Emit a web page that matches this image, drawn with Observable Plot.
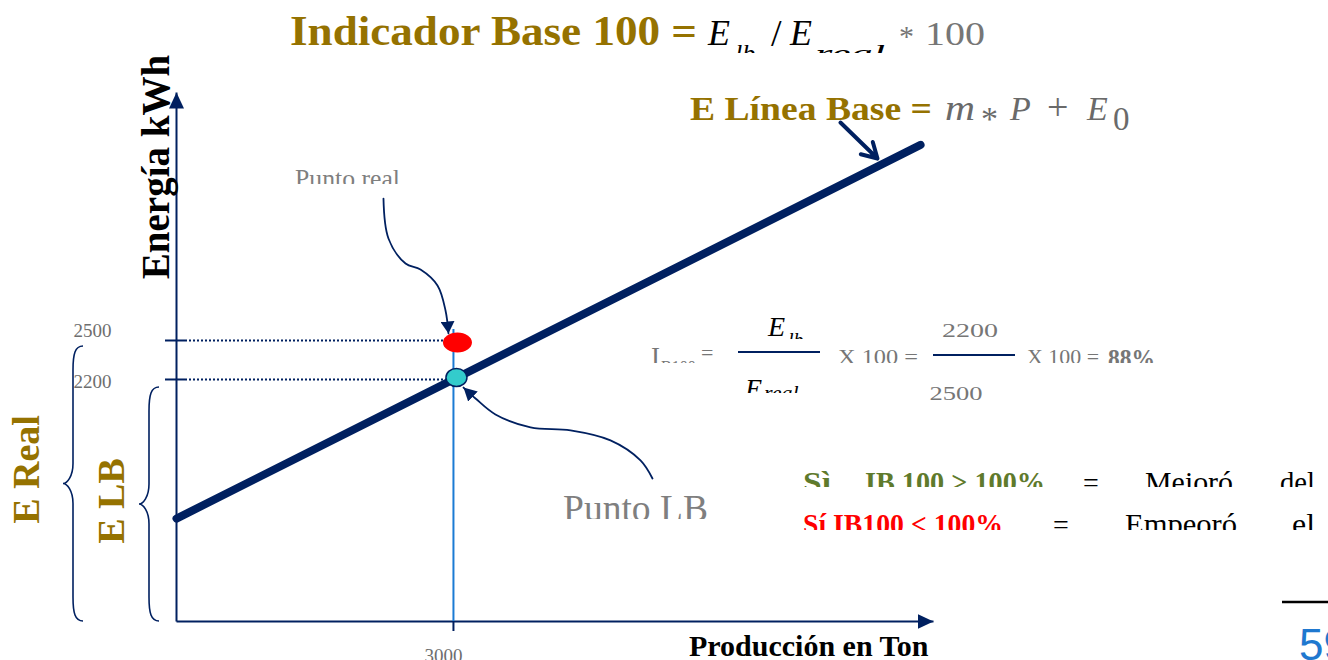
<!DOCTYPE html>
<html>
<head>
<meta charset="utf-8">
<script src="https://cdn.jsdelivr.net/npm/d3@7"></script>
<script src="https://cdn.jsdelivr.net/npm/@observablehq/plot@0.6"></script>
<style>
  html, body { margin: 0; padding: 0; background: #ffffff; overflow: hidden; }
  #chart svg { display: block; }
</style>
</head>
<body>
<div id="chart"></div>
<script>
// ---------------- data ----------------
const productionTicks = [3000];            // x tick (Ton)
const energyTicks = [2500, 2200];          // y ticks (kWh)
const baselineProduction = [0, 8060];      // línea base endpoints (Ton)
const baselineEnergy = [1130, 4005];       // línea base endpoints (kWh)
const pointProduction = [3000];
const pointLB = [2200];                    // Punto LB
const pointReal = [2500];                  // Punto real
const xDomain = [0, 8200];
const yDomain = [338, 4408];
// annotation arrows (data units)
const realArrowX = [2242, 2296, 2481, 2643, 2827, 2914, 2946];
const realArrowY = [3592, 3285, 3092, 3046, 2923, 2731, 2554];
const lbArrowX = [5156, 5026, 4701, 4268, 3835, 3455, 3239, 3109];
const lbArrowY = [1438, 1577, 1731, 1808, 1831, 1931, 2054, 2138];
const eqArrowX = [7192, 7593];
const eqArrowY = [4177, 3900];
// texts
const yAxisLabel = "Energía kWh";
const xAxisLabel = "Producción en Ton";
const braceLabels = ["E Real", "E LB"];
const titleText = "Indicador Base 100 =";
const baseEqText = "E Línea Base =";
const pointLabels = ["Punto real", "Punto LB"];
const legendRows = [
  ["Sì", "IB 100 > 100%", "=", "Mejoró", "del"],
  ["Sí IB100 < 100%", "=", "Empeoró", "el"]
];
const pageNumber = "59";

// ---------------- styles ----------------
const navy = "#002060";
const gold = "#957200";
const gray = "#767676";
const olive = "#5f7a2c";

const triHead = (len, half) => (color) => {
  const m = d3.create("svg:marker")
    .attr("viewBox", `${-len} ${-half} ${len} ${2 * half}`)
    .attr("markerUnits", "userSpaceOnUse")
    .attr("markerWidth", len).attr("markerHeight", 2 * half)
    .attr("refX", 0).attr("refY", 0)
    .attr("orient", "auto")
    .attr("fill", color).attr("stroke", "none");
  m.append("path").attr("d", `M${-len},${-half}L0,0L${-len},${half}Z`);
  return m.node();
};

function ellipse(rx, ry) {
  const k = 0.5523;
  return {
    draw(c) {
      c.moveTo(rx, 0);
      c.bezierCurveTo(rx, ry * k, rx * k, ry, 0, ry);
      c.bezierCurveTo(-rx * k, ry, -rx, ry * k, -rx, 0);
      c.bezierCurveTo(-rx, -ry * k, -rx * k, -ry, 0, -ry);
      c.bezierCurveTo(rx * k, -ry, rx, -ry * k, rx, 0);
      c.closePath();
    }
  };
}

// custom layer: braces + formula texts
function annotations(index, scales, values, dims) {
  const g = d3.create("svg:g")
    .attr("font-family", "'Liberation Serif', serif")
    .attr("text-anchor", "start");
  const defs = g.append("defs");
  let cid = 0;
  const clip = (x, y, w, h) => {
    const id = "annclip" + (cid++);
    defs.append("clipPath").attr("id", id).append("rect")
      .attr("x", x).attr("y", y).attr("width", w).attr("height", h);
    return g.append("g").attr("clip-path", `url(#${id})`);
  };
  const t = (p, s, x, y, o = {}) => {
    const e = p.append("text").attr("x", x).attr("y", y).text(s)
      .attr("font-size", o.fs || 20).attr("fill", o.fill || "#000")
      .attr("text-anchor", o.anchor || "start");
    if (o.bold) e.attr("font-weight", "bold");
    if (o.italic) e.attr("font-style", "italic");
    if (o.len) e.attr("textLength", o.len).attr("lengthAdjust", "spacingAndGlyphs");
    if (o.family) e.attr("font-family", o.family);
    return e;
  };

  // braces
  const left = dims.marginLeft;
  const yBot = scales.y(yDomain[0]);
  const brace = (yTop, xEnd, xSpine, xTip) => {
    const yMid = (yTop + yBot) / 2;
    const d = `M${xEnd},${yTop} C${xSpine + 2},${yTop} ${xSpine},${yTop + 8} ${xSpine},${yTop + 24}` +
      ` L${xSpine},${yMid - 20} C${xSpine},${yMid - 7} ${xTip + 4},${yMid} ${xTip},${yMid}` +
      ` C${xTip + 4},${yMid} ${xSpine},${yMid + 7} ${xSpine},${yMid + 20}` +
      ` L${xSpine},${yBot - 24} C${xSpine},${yBot - 8} ${xSpine + 2},${yBot} ${xEnd},${yBot}`;
    g.append("path").attr("d", d).attr("fill", "none").attr("stroke", navy).attr("stroke-width", 1.6);
  };
  brace(scales.y(pointReal[0]) + 6, left - 93, left - 103, left - 113);
  brace(scales.y(pointLB[0]) + 8, left - 17, left - 27, left - 37);

  // title
  const ti = clip(0, 0, 1328, 53);
  t(ti, titleText, 290, 45, {fs: 42, bold: true, fill: gold, len: 407});
  t(ti, "E", 708, 45, {fs: 36, italic: true});
  t(ti, "lb", 735, 62, {fs: 26, italic: true});
  t(ti, "/", 771, 46, {fs: 38});
  t(ti, "E", 790, 45, {fs: 36, italic: true});
  t(ti, "real", 815, 62, {fs: 26, italic: true, len: 70});
  t(ti, "*", 899, 46, {fs: 30, fill: gray});
  t(ti, "100", 925, 45, {fs: 34, fill: gray, len: 60});

  // E Línea Base equation
  const mg = "#6a6a6a";
  t(g, baseEqText, 690, 120, {fs: 34, bold: true, fill: gold, len: 242});
  t(g, "m", 945, 120, {fs: 36, italic: true, fill: mg, len: 30});
  t(g, "*", 981, 130, {fs: 34, fill: mg});
  t(g, "P", 1010, 120, {fs: 34, italic: true, fill: mg});
  t(g, "+", 1047, 120, {fs: 38, fill: mg});
  t(g, "E", 1087, 120, {fs: 34, italic: true, fill: mg});
  t(g, "0", 1113, 130, {fs: 33, fill: mg});

  // point labels
  t(clip(0, 150, 600, 34), pointLabels[0], 295, 187, {fs: 25, fill: "#7f7f7f", len: 105});
  t(clip(0, 480, 800, 39), pointLabels[1], 563, 521, {fs: 37, fill: "#7f7f7f", len: 145});

  // formula row
  const fr = clip(600, 300, 700, 63);
  t(fr, "I", 651, 366, {fs: 27, fill: gray});
  t(fr, "B100", 661, 372, {fs: 16, fill: gray});
  t(fr, "=", 701, 360, {fs: 22, fill: gray});
  t(fr, "X 100 =", 838, 364, {fs: 22, fill: gray, len: 80});
  t(fr, "X 100 =", 1027, 364, {fs: 22, fill: gray, len: 72});
  t(fr, "88%", 1108, 367, {fs: 26, bold: true, fill: gray, len: 47});
  // fraction 1
  t(g, "E", 768, 336, {fs: 28, italic: true});
  t(clip(780, 300, 60, 39), "lb", 788, 347, {fs: 20, italic: true});
  g.append("line").attr("x1", 738).attr("x2", 820).attr("y1", 352).attr("y2", 352).attr("stroke", navy).attr("stroke-width", 2);
  const den = clip(730, 370, 100, 23);
  t(den, "E", 745, 398, {fs: 28, italic: true});
  t(den, "real", 764, 400, {fs: 22, italic: true});
  // fraction 2
  t(g, "2200", 970, 337, {fs: 19, fill: gray, anchor: "middle", len: 56});
  g.append("line").attr("x1", 933).attr("x2", 1015).attr("y1", 355).attr("y2", 355).attr("stroke", navy).attr("stroke-width", 2);
  t(clip(900, 370, 120, 30), "2500", 956, 400, {fs: 19, fill: gray, anchor: "middle", len: 53});

  // legend rows
  const r1 = clip(780, 450, 548, 37);
  t(r1, legendRows[0][0], 803, 492, {fs: 29, bold: true, fill: olive, len: 28});
  t(r1, legendRows[0][1], 865, 492, {fs: 29, bold: true, fill: olive, len: 180});
  t(r1, legendRows[0][2], 1083, 492, {fs: 28});
  t(r1, legendRows[0][3], 1145, 492, {fs: 29, len: 88});
  t(r1, legendRows[0][4], 1280, 492, {fs: 29, len: 35});
  const r2 = clip(780, 495, 548, 35);
  t(r2, legendRows[1][0], 803, 534, {fs: 29, bold: true, fill: "#ff0000", len: 200});
  t(r2, legendRows[1][1], 1053, 534, {fs: 28});
  t(r2, legendRows[1][2], 1125, 534, {fs: 29, len: 112});
  t(r2, legendRows[1][3], 1292, 534, {fs: 29, len: 23});

  // page footer
  g.append("line").attr("x1", 1282).attr("x2", 1328).attr("y1", 602).attr("y2", 602).attr("stroke", "#000").attr("stroke-width", 2.5);
  t(g, pageNumber, 1299, 660, {fs: 44, fill: "#1f78cf", family: "'Liberation Sans', sans-serif"});
  return g.node();
}

const chart = Plot.plot({
  width: 1328,
  height: 660,
  marginLeft: 176,
  marginRight: 395,
  marginTop: 92,
  marginBottom: 39,
  x: {domain: xDomain},
  y: {domain: yDomain},
  style: {background: "#ffffff", fontFamily: "'Liberation Serif', serif", overflow: "visible"},
  marks: [
    // axes with arrow heads
    Plot.link([0], {x1: () => xDomain[0], x2: () => xDomain[0], y1: () => yDomain[0], y2: () => yDomain[1],
      stroke: navy, strokeWidth: 2, markerEnd: triHead(16, 7.5)}),
    Plot.link([0], {x1: () => xDomain[0], x2: () => xDomain[1], y1: () => yDomain[0], y2: () => yDomain[0],
      stroke: navy, strokeWidth: 2, markerEnd: triHead(16, 7.5)}),
    Plot.axisY(energyTicks, {tickSize: 20, dx: 9, stroke: navy, strokeWidth: 2, fill: "none", label: null}),
    Plot.axisX(productionTicks, {tickSize: 10, stroke: navy, strokeWidth: 2, fill: "none", label: null}),
    // tick labels
    Plot.text([energyTicks[0]], {y: d => d, text: d => String(d), frameAnchor: "left", dx: -103, dy: -10,
      textAnchor: "start", fontSize: 19, fill: "#6e6e6e"}),
    Plot.text([energyTicks[1]], {y: d => d, text: d => String(d), frameAnchor: "left", dx: -103, dy: 2,
      textAnchor: "start", fontSize: 19, fill: "#6e6e6e"}),
    Plot.text(productionTicks, {x: d => d, text: d => String(d), frameAnchor: "bottom", dx: -10, dy: 40,
      fontSize: 19, fill: "#6e6e6e"}),
    // axis titles
    Plot.text([yAxisLabel], {text: d => d, frameAnchor: "top-left", rotate: -90, dx: -8, dy: 74.5,
      textAnchor: "middle", lineAnchor: "bottom", fontSize: 39, fontWeight: "bold", fill: "#000"}),
    Plot.text([xAxisLabel], {text: d => d, frameAnchor: "bottom-right", dx: -5, dy: 34,
      textAnchor: "end", lineAnchor: "bottom", fontSize: 30, fontWeight: "bold", fill: "#000"}),
    Plot.text([braceLabels[0]], {text: d => d, frameAnchor: "top-left", rotate: -90, dx: -138, dy: 377,
      textAnchor: "middle", lineAnchor: "bottom", fontSize: 38, fontWeight: "bold", fill: gold}),
    Plot.text([braceLabels[1]], {text: d => d, frameAnchor: "top-left", rotate: -90, dx: -53, dy: 408.5,
      textAnchor: "middle", lineAnchor: "bottom", fontSize: 38, fontWeight: "bold", fill: gold}),
    // baseline
    Plot.line(baselineProduction, {x: d => d, y: (d, i) => baselineEnergy[i], stroke: navy, strokeWidth: 8}),
    // leader lines
    Plot.ruleY(pointReal, {y: d => d, x1: () => xDomain[0], x2: () => pointProduction[0], insetLeft: 9,
      stroke: navy, strokeWidth: 2, strokeDasharray: "2,2"}),
    Plot.ruleY(pointLB, {y: d => d, x1: () => xDomain[0], x2: () => pointProduction[0], insetLeft: 9,
      stroke: navy, strokeWidth: 2, strokeDasharray: "2,2"}),
    Plot.ruleX(pointProduction, {x: d => d, y1: () => yDomain[0], y2: () => pointReal[0], insetBottom: 11,
      stroke: "#1b7bd4", strokeWidth: 2}),
    // points
    Plot.dot(pointProduction, {x: d => d, y: () => pointReal[0], symbol: ellipse(14.5, 10), dx: 4, dy: 2,
      fill: "#ff0000", stroke: "none"}),
    Plot.dot(pointProduction, {x: d => d, y: () => pointLB[0], symbol: ellipse(10.5, 9), dx: 3, dy: -2,
      fill: "#33cccc", stroke: navy, strokeWidth: 1.5}),
    // annotation arrows
    Plot.line(realArrowX, {x: d => d, y: (d, i) => realArrowY[i], curve: "catmull-rom",
      stroke: navy, strokeWidth: 1.8, markerEnd: triHead(12, 7)}),
    Plot.line(lbArrowX, {x: d => d, y: (d, i) => lbArrowY[i], curve: "catmull-rom",
      stroke: navy, strokeWidth: 1.8, markerEnd: triHead(13, 7)}),
    Plot.arrow([0], {x1: () => eqArrowX[0], y1: () => eqArrowY[0], x2: () => eqArrowX[1], y2: () => eqArrowY[1],
      stroke: navy, strokeWidth: 4, headLength: 16}),
    annotations
  ]
});
document.getElementById("chart").appendChild(chart);
</script>
</body>
</html>
